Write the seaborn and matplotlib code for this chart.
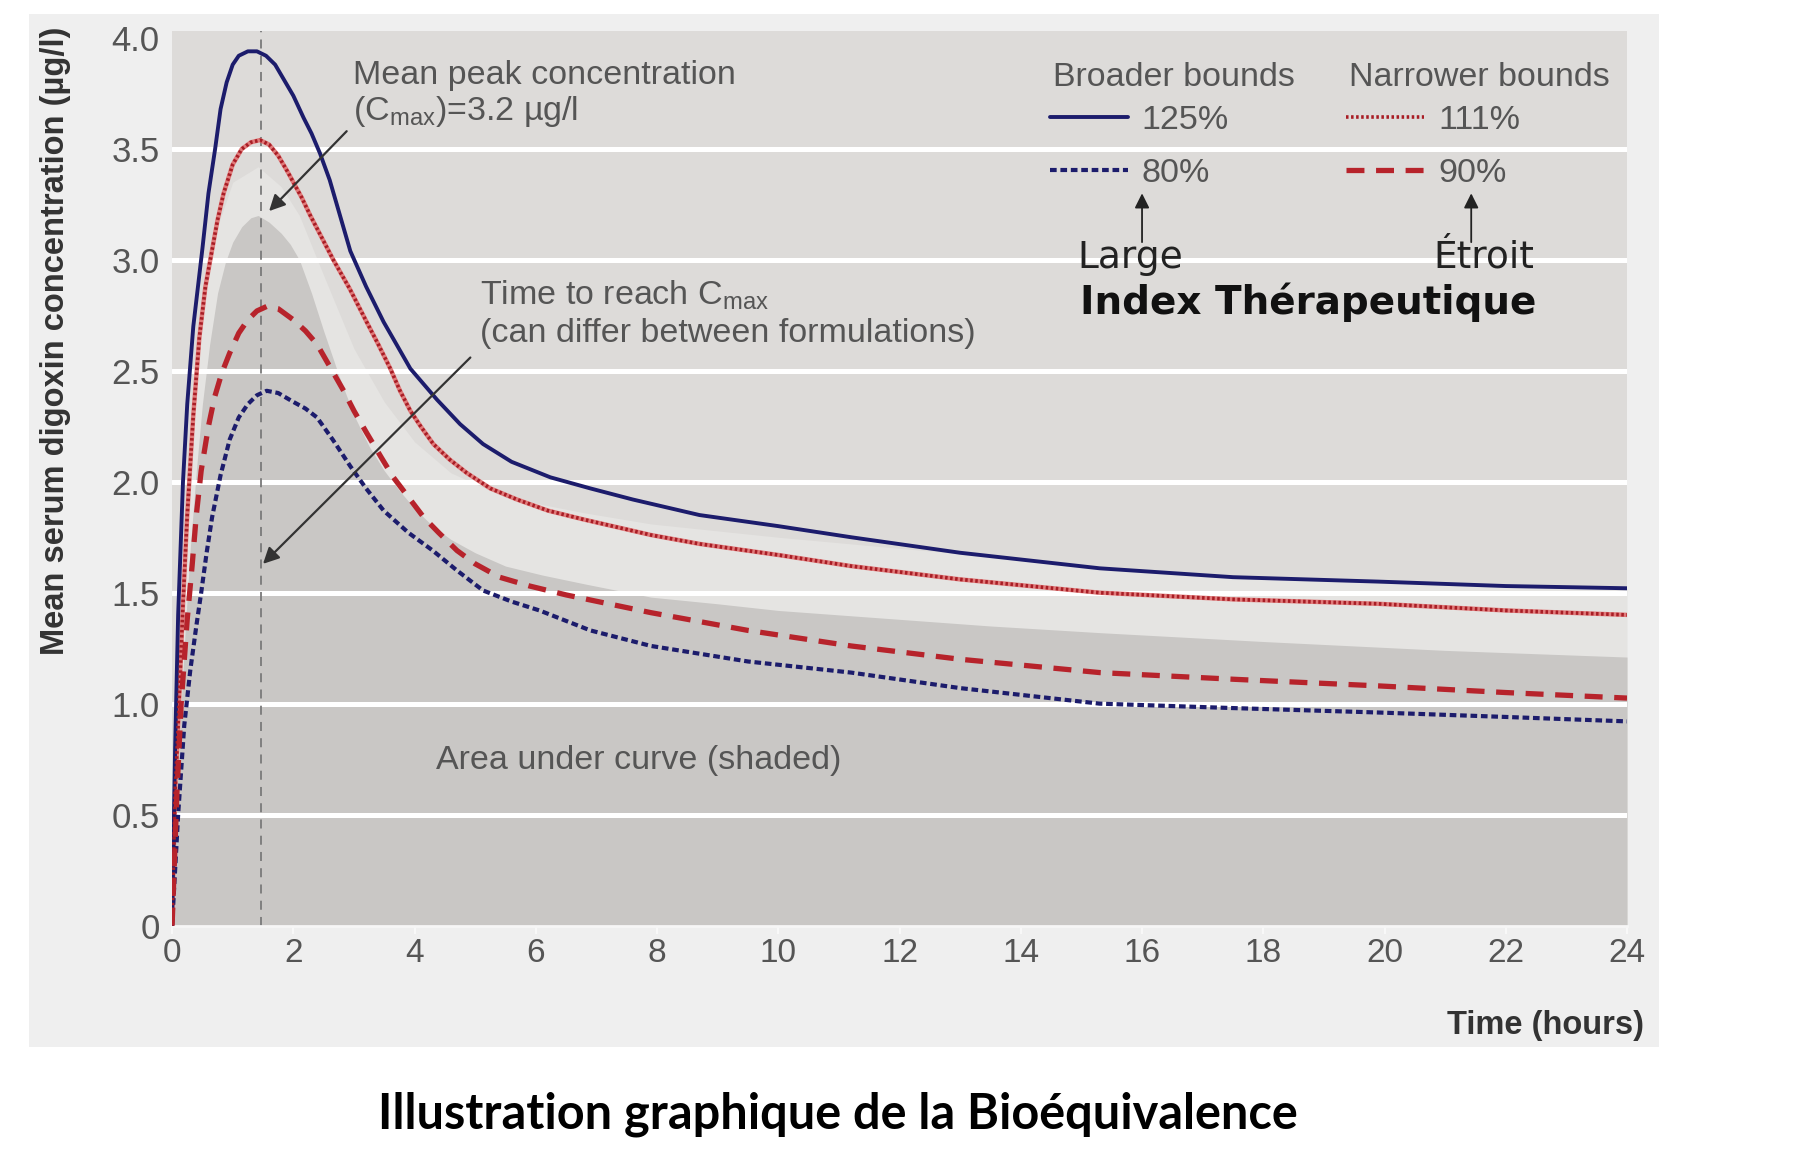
import matplotlib
matplotlib.use("Agg")
import matplotlib.pyplot as plt
import seaborn as sns
from matplotlib.patches import Rectangle

# ---------------- data ----------------
hours_ticks = [0, 2, 4, 6, 8, 10, 12, 14, 16, 18, 20, 22, 24]
conc_ticks = [0, 0.5, 1.0, 1.5, 2.0, 2.5, 3.0, 3.5, 4.0]
conc_tick_labels = ["0", "0.5", "1.0", "1.5", "2.0", "2.5", "3.0", "3.5", "4.0"]

# mean curve (top of the shaded area under the curve)
t_mean = [0, 0.08, 0.15, 0.22, 0.3, 0.4, 0.5, 0.62, 0.75, 0.88, 1.0, 1.15, 1.3, 1.42,
          1.6, 1.8, 1.95, 2.1, 2.3, 2.5, 2.75, 3.0, 3.25, 3.5, 3.75, 4.0, 4.3, 4.6,
          5.0, 5.5, 6.1, 6.8, 7.9, 9, 10, 12, 13.5, 15.3, 18, 21, 24]
c_mean = [0, 0.6, 1.0, 1.35, 1.7, 2.05, 2.35, 2.62, 2.85, 2.99, 3.08, 3.15, 3.19, 3.2,
          3.17, 3.12, 3.07, 3.0, 2.85, 2.68, 2.48, 2.3, 2.16, 2.05, 1.96, 1.88, 1.8, 1.74,
          1.68, 1.62, 1.58, 1.54, 1.48, 1.45, 1.42, 1.38, 1.35, 1.32, 1.28, 1.24, 1.21]

# upper edge of the light halo above the shaded area
t_halo = [0, 0.1, 0.3, 0.5, 0.75, 1.0, 1.42, 1.8, 2.1, 2.5, 3.0, 3.5, 4.0, 4.6, 5.5,
          6.8, 7.9, 10, 12, 15.3, 18, 21, 24]
c_halo = [0, 1.2, 2.1, 2.75, 3.15, 3.35, 3.42, 3.33, 3.2, 2.93, 2.6, 2.36, 2.18, 2.04,
          1.93, 1.86, 1.81, 1.75, 1.7, 1.62, 1.57, 1.54, 1.52]

# broader bounds
t_125 = [0, 0.05, 0.1, 0.18, 0.25, 0.35, 0.5, 0.6, 0.71, 0.8, 0.9, 1.0, 1.1, 1.25,
         1.4, 1.55, 1.7, 1.85, 2.0, 2.17, 2.3, 2.44, 2.6, 2.77, 2.94, 3.2, 3.49, 3.7,
         3.93, 4.15, 4.37, 4.75, 5.13, 5.6, 6.24, 6.9, 7.6, 8.7, 10, 11.2, 13, 15.3,
         17.5, 19.9, 22, 24]
c_125 = [0, 0.8, 1.4, 2.0, 2.35, 2.7, 3.05, 3.3, 3.5, 3.68, 3.8, 3.88, 3.92, 3.94,
         3.94, 3.92, 3.88, 3.81, 3.74, 3.64, 3.57, 3.48, 3.36, 3.2, 3.04, 2.88, 2.72,
         2.62, 2.51, 2.44, 2.37, 2.26, 2.17, 2.09, 2.02, 1.97, 1.92, 1.85, 1.8, 1.75,
         1.68, 1.61, 1.57, 1.55, 1.53, 1.52]
t_80 = [0, 0.1, 0.2, 0.3, 0.4, 0.48, 0.57, 0.66, 0.8, 0.95, 1.1, 1.25, 1.4, 1.56,
        1.75, 2.0, 2.2, 2.39, 2.65, 2.94, 3.2, 3.49, 3.9, 4.3, 4.7, 5.13, 5.6, 6.06,
        6.9, 7.9, 9.5, 11.2, 13, 15.3, 17.5, 19.9, 22, 24]
c_80 = [0, 0.5, 0.9, 1.15, 1.35, 1.5, 1.68, 1.84, 2.03, 2.19, 2.29, 2.35, 2.39, 2.41,
        2.4, 2.36, 2.33, 2.29, 2.19, 2.07, 1.97, 1.87, 1.77, 1.69, 1.6, 1.51, 1.46,
        1.42, 1.33, 1.26, 1.19, 1.14, 1.07, 1.0, 0.98, 0.96, 0.94, 0.92]

# narrower bounds
t_111 = [0, 0.05, 0.1, 0.18, 0.25, 0.35, 0.45, 0.55, 0.63, 0.75, 0.85, 1.0, 1.15,
         1.3, 1.45, 1.6, 1.75, 1.9, 2.0, 2.14, 2.28, 2.47, 2.66, 2.93, 3.21, 3.4, 3.6,
         3.76, 3.93, 4.1, 4.31, 4.58, 4.86, 5.25, 5.69, 6.2, 6.79, 7.9, 8.7, 10, 11.2,
         13, 15.3, 17.5, 19.9, 22, 24]
c_111 = [0, 0.6, 0.9, 1.45, 1.85, 2.3, 2.65, 2.88, 3.0, 3.18, 3.3, 3.43, 3.5, 3.53,
         3.54, 3.52, 3.47, 3.4, 3.35, 3.28, 3.2, 3.1, 3.0, 2.87, 2.72, 2.62, 2.51, 2.41,
         2.32, 2.25, 2.17, 2.1, 2.04, 1.97, 1.92, 1.87, 1.83, 1.76, 1.72, 1.67, 1.62,
         1.56, 1.5, 1.47, 1.45, 1.42, 1.4]
t_90 = [0, 0.08, 0.15, 0.25, 0.33, 0.4, 0.48, 0.6, 0.7, 0.82, 0.95, 1.1, 1.25, 1.4,
        1.56, 1.75, 2.0, 2.2, 2.39, 2.6, 2.83, 3.0, 3.21, 3.45, 3.65, 3.9, 4.15, 4.4,
        4.7, 5.0, 5.4, 5.9, 6.5, 7.2, 7.9, 9.5, 11.2, 13, 15.3, 17.5, 19.9, 22, 24]
c_90 = [0, 0.6, 1.0, 1.38, 1.62, 1.85, 2.05, 2.25, 2.38, 2.49, 2.58, 2.67, 2.73, 2.77,
        2.79, 2.78, 2.73, 2.68, 2.62, 2.52, 2.41, 2.32, 2.22, 2.11, 2.02, 1.93, 1.84,
        1.77, 1.69, 1.63, 1.57, 1.53, 1.49, 1.45, 1.41, 1.33, 1.26, 1.2, 1.14, 1.11,
        1.08, 1.05, 1.025]

t_peak = 1.46

# ---------------- style ----------------
sns.set_theme(style="white")
SANS = ["Liberation Sans", "DejaVu Sans"]
plt.rcParams["font.family"] = SANS
plt.rcParams["mathtext.fontset"] = "custom"

NAVY = "#1c1c6c"
RED = "#b7232b"
GREY_TXT = "#555555"

fig = plt.figure(figsize=(18, 11.53), dpi=100)
fig.patch.set_facecolor("white")
fig.add_artist(Rectangle((0.0161, 0.0919), 0.9056, 0.896, transform=fig.transFigure,
                         facecolor="#efefef", edgecolor="none", zorder=-10))

ax = fig.add_axes([0.0956, 0.1973, 0.8083, 0.7755])
ax.set_facecolor("#dddbd9")
ax.set_xlim(0, 24)
ax.set_ylim(0, 4.03)

# halo and shaded area under the curve
ax.fill_between(t_halo, 0, c_halo, color="#e5e4e2", lw=0, zorder=1)
ax.fill_between(t_mean, 0, c_mean, color="#c9c7c5", lw=0, zorder=1.1)

# grid
ax.set_axisbelow("line")
ax.set_yticks(conc_ticks)
ax.set_yticklabels(conc_tick_labels)
ax.set_xticks(hours_ticks)
ax.grid(axis="y", color="white", lw=3.6)
ax.grid(axis="x", visible=False)
glines = ax.yaxis.get_gridlines()
glines[0].set_visible(False)
glines[-1].set_visible(False)

for s in ["top", "right", "left"]:
    ax.spines[s].set_visible(False)
ax.spines["bottom"].set_color("#f6f6f6")
ax.spines["bottom"].set_linewidth(2)

ax.tick_params(axis="y", length=0, pad=9, labelsize=25, labelcolor=GREY_TXT)
ax.tick_params(axis="x", length=6, width=1.5, color="#f8f8f8", direction="out",
               pad=3, labelsize=24, labelcolor=GREY_TXT, bottom=True)

# vertical dashed line at tmax
ax.axvline(t_peak, color="#7a7a7a", lw=1.3, ls=(0, (5, 4)), zorder=1.8)

# curves
sns.lineplot(x=t_125, y=c_125, ax=ax, color=NAVY, lw=2.8, label="125%", zorder=4)
sns.lineplot(x=t_80, y=c_80, ax=ax, color=NAVY, lw=3.0, linestyle=(0, (1.6, 0.9)),
             label="80%", zorder=4)
sns.lineplot(x=t_111, y=c_111, ax=ax, color="#e07a7a", lw=3.2, zorder=3)
sns.lineplot(x=t_111, y=c_111, ax=ax, color="#a81d25", lw=2.6, linestyle=(0, (0.7, 0.7)),
             label="111%", zorder=4)
sns.lineplot(x=t_90, y=c_90, ax=ax, color=RED, lw=3.8, linestyle=(0, (3.4, 2.2)),
             label="90%", zorder=4)

handles, labels = ax.get_legend_handles_labels()
hmap = dict(zip(labels, handles))
if ax.get_legend() is not None:
    ax.get_legend().remove()

leg_kw = dict(loc="upper left", frameon=False, fontsize=24.5, handlelength=2.3,
              handletextpad=0.4, labelspacing=0.65, borderpad=0, borderaxespad=0)
leg1 = ax.legend([hmap["125%"], hmap["80%"]], ["125%", "80%"],
                 bbox_to_anchor=(0.6034, 0.918), **leg_kw)
ax.add_artist(leg1)
leg2 = ax.legend([hmap["111%"], hmap["90%"]], ["111%", "90%"],
                 bbox_to_anchor=(0.8069, 0.918), **leg_kw)
for lg in (leg1, leg2):
    for tx in lg.get_texts():
        tx.set_color(GREY_TXT)
ax.text(14.53, 3.82, "Broader bounds", va="center", ha="left", fontsize=24.5,
        color=GREY_TXT)
ax.text(19.41, 3.82, "Narrower bounds", va="center", ha="left", fontsize=24.5,
        color=GREY_TXT)

# annotations
arrow_kw = dict(arrowstyle="-|>", color="#333333", lw=1.6, mutation_scale=24,
                shrinkA=0, shrinkB=0)
ax.annotate("", xy=(1.6, 3.22), xytext=(2.88, 3.58), arrowprops=arrow_kw, zorder=5)
ax.annotate("", xy=(1.5, 1.63), xytext=(4.92, 2.56), arrowprops=arrow_kw, zorder=5)
up_kw = dict(arrowstyle="-|>", color="#222222", lw=1.3, mutation_scale=22,
             shrinkA=0, shrinkB=0)
ax.annotate("", xy=(16.0, 3.30), xytext=(16.0, 3.08), arrowprops=up_kw)
ax.annotate("", xy=(21.43, 3.30), xytext=(21.43, 3.08), arrowprops=up_kw)

ax.text(2.98, 3.83, "Mean peak concentration", va="center", ha="left", fontsize=24.5,
        color=GREY_TXT)
ax.text(2.98, 3.67, r"(C$_\mathregular{max}$)=3.2 µg/l", va="center", ha="left",
        fontsize=24.5, color=GREY_TXT)
ax.text(5.08, 2.84, r"Time to reach C$_\mathregular{max}$", va="center", ha="left",
        fontsize=24.5, color=GREY_TXT)
ax.text(5.08, 2.67, "(can differ between formulations)", va="center", ha="left",
        fontsize=24.5, color=GREY_TXT)
ax.text(4.36, 0.745, "Area under curve (shaded)", va="center", ha="left", fontsize=24.5,
        color=GREY_TXT)

ax.text(14.93, 3.01, "Large", va="center", ha="left", fontsize=27, color="#222222",
        family=["DejaVu Sans"])
ax.text(20.8, 3.01, "Étroit", va="center", ha="left", fontsize=27, color="#222222",
        family=["DejaVu Sans"])
ax.text(14.97, 2.81, "Index Thérapeutique", va="center", ha="left", fontsize=28,
        weight="bold", color="#111111", family=["DejaVu Sans"])

fig.text(0.0306, 0.704, "Mean serum digoxin concentration (µg/l)", rotation=90,
         ha="center", va="center", fontsize=23.5, weight="bold", color="#333333")
fig.text(0.9133, 0.111, "Time (hours)", ha="right", va="center", fontsize=23.5,
         weight="bold", color="#333333")
fig.text(0.4656, 0.034, "Illustration graphique de la Bioéquivalence", ha="center",
         va="center", fontsize=35, weight="bold", color="black",
         family=["Lato", "DejaVu Sans"])

fig.savefig("out.png", dpi=100)
